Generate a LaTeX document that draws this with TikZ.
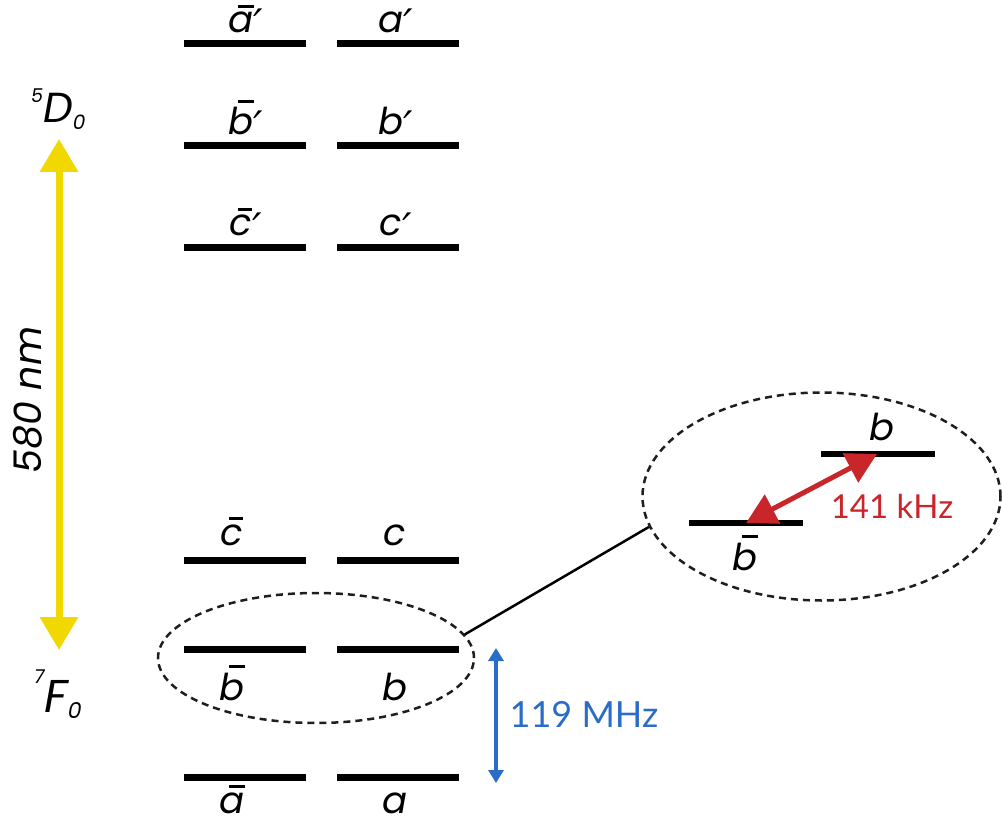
\documentclass[tikz,border=0pt]{standalone}
\usepackage{fontspec}
\setmainfont{Poppins}
\newfontfamily\numfont{Lato}
\newfontfamily\primefont{DejaVu Sans}
\usetikzlibrary{arrows.meta,shapes.geometric}

\definecolor{laseryellow}{HTML}{F0D800}
\definecolor{rfblue}{HTML}{2A6DC8}
\definecolor{hfred}{HTML}{C8262B}
\definecolor{dashgray}{HTML}{1E1E1E}

% letter with an overbar, set in the current font
\newcommand\barred[1]{\setbox0\hbox{#1}\rlap{\kern0.38\wd0\raise\dimexpr\ht0+0.12em\relax\hbox{\vrule width 0.62\wd0 height 0.075em depth 0pt}}\box0}
% prime that does not shift the centring of its letter
\newcommand\pr{\rlap{\raisebox{-7pt}{\primefont\itshape\fontsize{42}{42}\selectfont ′}}}

\begin{document}
\begin{tikzpicture}[x=1pt,y=-1pt,
  level/.style={line width=7pt},
  sublevel/.style={line width=5.5pt},
  lab/.style={font=\fontsize{37}{37}\selectfont\itshape, inner sep=0pt, anchor=base},
  termlab/.style={inner sep=0pt, anchor=base west},
  ring/.style={draw=dashgray, dashed, dash pattern=on 7pt off 5pt, line width=2.5pt, ellipse, inner sep=0pt},
]
\useasboundingbox (0,0) rectangle (1002,824);

% ---- crystal-field levels: left column (barred), right column
\foreach \y in {44,146,247,560,649,777}{
  \draw[level] (184,\y) -- (306,\y);
  \draw[level] (337,\y) -- (459,\y);
}

% excited-state labels
\node[lab] (abp) at (241,33)  {\barred{a}\pr};
\node[lab] (ap)  at (391,33)  {a\pr};
\node[lab] (bbp) at (241,135) {\barred{b}\pr};
\node[lab] (bp)  at (391,135) {b\pr};
\node[lab] (cbp) at (241,236) {\barred{c}\pr};
\node[lab] (cp)  at (391,236) {c\pr};

% ground-state labels
\node[lab] (cb) at (232,545) {\barred{c}};
\node[lab] (c)  at (395,545) {c};
\node[lab] (bb) at (232,700) {\barred{b}};
\node[lab] (b)  at (395,700) {b};
\node[lab] (ab) at (232,813) {\barred{a}};
\node[lab] (a)  at (395,813) {a};

% term symbols
\node[termlab] (D0) at (31,123) {\itshape\fontsize{42}{42}\selectfont
  \raisebox{20pt}{\fontsize{19}{19}\selectfont 5}D\raisebox{-7pt}{\fontsize{20}{20}\selectfont 0}};
\node[termlab] (F0) at (34,712) {\itshape\fontsize{46}{46}\selectfont
  \raisebox{29pt}{\fontsize{19}{19}\selectfont 7}F\raisebox{-6pt}{\fontsize{22}{22}\selectfont 0}};

% optical transition
\coordinate (opttop) at (59,139);
\coordinate (optbot) at (59,650);
\draw[laseryellow, line width=7pt, {Triangle[length=33pt,width=37pt]}-{Triangle[length=33pt,width=37pt]}] (opttop) -- (optbot);
\node[rotate=90, inner sep=0pt, font=\fontsize{38}{38}\selectfont\itshape] (wl) at (28,400) {580 nm};

% hyperfine splitting of the ground state
\coordinate (rftop) at (496,648);
\coordinate (rfbot) at (496,783);
\draw[rfblue, line width=4pt, {Triangle[length=13pt,width=15pt]}-{Triangle[length=13pt,width=15pt]}] (rftop) -- (rfbot);
\node[anchor=base, inner sep=0pt, text=rfblue, font=\numfont\fontsize{36}{36}\selectfont] (rf) at (584,727) {119 MHz};

% zoomed view of the b doublet
\node[ring, minimum width=316pt, minimum height=130pt] (sm) at (316,658) {};
\node[ring, minimum width=358pt, minimum height=208pt] (bg) at (821.5,496.5) {};
\draw[line width=2.5pt] (sm.9) -- (bg.190.5);

\draw[sublevel] (689,523) -- (803,523);
\draw[sublevel] (821,454) -- (935,454);
\node[lab] (bz)  at (882,440) {b};
\node[lab] (bbz) at (745,570) {\barred{b}};

\coordinate (hflo) at (746,523);
\coordinate (hfhi) at (877,454);
\draw[hfred, line width=5pt, {Triangle[length=30pt,width=32pt]}-{Triangle[length=30pt,width=32pt]}] (hflo) -- (hfhi);
\node[anchor=base, inner sep=0pt, text=hfred, font=\numfont\fontsize{33}{33}\selectfont] (hf) at (892,518) {141 kHz};
\end{tikzpicture}
\end{document}
